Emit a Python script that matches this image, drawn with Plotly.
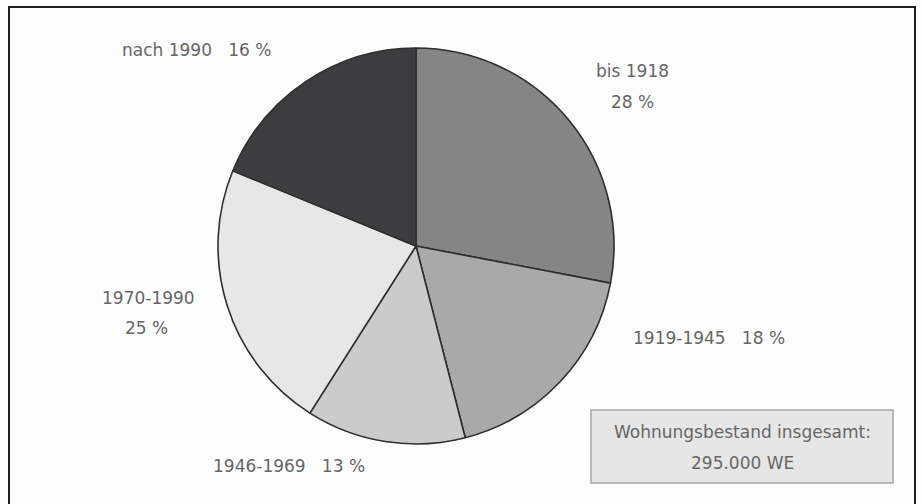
import plotly.graph_objects as go

categories = ["bis 1918", "1919-1945", "1946-1969", "1970-1990", "nach 1990"]
# percentages as printed in the labels
shares = [28, 18, 13, 25, 16]
# slice sizes as actually drawn in the picture
drawn_shares = [28, 18, 13, 22.2, 18.8]
colors = ["#858585", "#a9a9a9", "#cbcbcb", "#e7e7e7", "#3d3d3f"]
total_label = "Wohnungsbestand insgesamt:"
total_value = "295.000 WE"

W, H = 923, 504
FONT = "DejaVu Sans, Liberation Sans, sans-serif"
TXT = "#666666"
FS = 17

cx, cy, r = 416, 246, 198

fig = go.Figure(go.Pie(
    labels=categories, values=drawn_shares, sort=False, direction="clockwise",
    rotation=0, textinfo="none", hoverinfo="label",
    marker=dict(colors=colors, line=dict(color="#2e2e2e", width=1.6)),
    domain=dict(x=[(cx - r) / W, (cx + r) / W], y=[1 - (cy + r) / H, 1 - (cy - r) / H]),
    showlegend=False,
))

def px(x):
    return x / W

def py(y):
    return 1 - y / H

label_pos = {
    "nach 1990": [(196, 50, f"nach 1990   {shares[4]} %")],
    "bis 1918": [(632, 71, "bis 1918"), (632, 102, f"{shares[0]} %")],
    "1919-1945": [(709, 338, f"1919-1945   {shares[1]} %")],
    "1970-1990": [(148, 298, "1970-1990"), (146, 328, f"{shares[3]} %")],
    "1946-1969": [(289, 466, f"1946-1969   {shares[2]} %")],
}
anns = []
for cat in categories:
    for (x, y, t) in label_pos[cat]:
        anns.append(dict(x=px(x), y=py(y), xref="paper", yref="paper", text=t,
                         showarrow=False, xanchor="center", yanchor="middle",
                         font=dict(family=FONT, size=FS, color=TXT)))
anns.append(dict(x=px(742), y=py(432), xref="paper", yref="paper", text=total_label,
                 showarrow=False, xanchor="center", yanchor="middle",
                 font=dict(family=FONT, size=FS, color=TXT)))
anns.append(dict(x=px(742), y=py(463), xref="paper", yref="paper", text=total_value,
                 showarrow=False, xanchor="center", yanchor="middle",
                 font=dict(family=FONT, size=FS, color=TXT)))

shapes = [
    dict(type="rect", xref="paper", yref="paper", x0=px(9), x1=px(915), y0=py(515), y1=py(7),
         line=dict(color="#1e1e1e", width=2), fillcolor="rgba(0,0,0,0)"),
    dict(type="rect", xref="paper", yref="paper", x0=px(591), x1=px(893), y0=py(483), y1=py(410),
         line=dict(color="#a8a8a8", width=1.5), fillcolor="#e6e6e6", layer="below"),
]

fig.update_layout(
    width=W, height=H, margin=dict(l=0, r=0, t=0, b=0),
    paper_bgcolor="#fdfdfd", plot_bgcolor="#fdfdfd",
    annotations=anns, shapes=shapes,
)
fig.write_html("out.html", config={"displayModeBar": False},
               post_script="document.body.style.margin='0';document.body.style.overflow='hidden';")
